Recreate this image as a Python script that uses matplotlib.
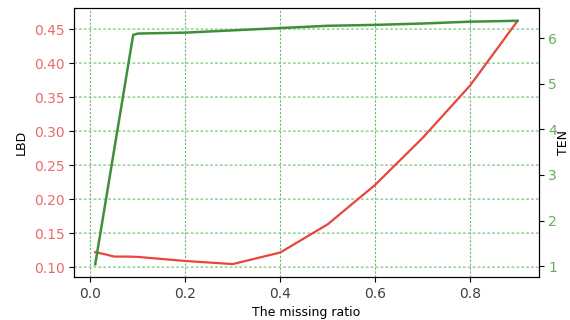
import matplotlib
matplotlib.use("Agg")
import matplotlib.pyplot as plt

ratio = [0.01, 0.03, 0.05, 0.08, 0.1, 0.2, 0.3, 0.4, 0.5, 0.6, 0.7, 0.8, 0.9]
lbd = [0.122, 0.119, 0.1155, 0.1155, 0.115, 0.109, 0.1045, 0.1215, 0.163, 0.221, 0.290, 0.367, 0.462]
ten_x = [0.01, 0.09, 0.1, 0.2, 0.3, 0.4, 0.5, 0.6, 0.7, 0.8, 0.9]
ten = [1.04, 6.07, 6.1, 6.12, 6.17, 6.22, 6.27, 6.29, 6.32, 6.36, 6.38]

fig = plt.figure(figsize=(5.7, 3.2), dpi=100)
ax = fig.add_axes([0.13, 0.134, 0.815, 0.841])
ax.plot(ratio, lbd, color='#e8453c', linewidth=1.6)
ax.set_xlim(-0.0345, 0.9445)
ax.set_ylim(0.0853, 0.481)
ax.set_ylabel('LBD', fontsize=9)
ax.set_xlabel('The missing ratio', fontsize=9)
ax.tick_params(axis='y', labelcolor='#ea6a6a', labelsize=10)
ax.tick_params(axis='x', labelcolor='#404040', labelsize=10)
ax.xaxis.grid(True, color='#66bb66', linestyle=(0, (2, 1.5)), linewidth=0.8)
ax.yaxis.grid(True, color='#88cc88', linestyle=(0, (2, 1.5)), linewidth=1.0, snap=False)

ax2 = ax.twinx()
ax2.plot(ten_x, ten, color='#3f8f3a', linewidth=1.8)
ax2.set_ylim(0.76, 6.66)
ax2.set_ylabel('TEN', fontsize=9, labelpad=0)
ax2.tick_params(axis='y', labelcolor='#6aaa60', labelsize=10)
ax2.grid(False)

fig.savefig('out.png', dpi=100)
